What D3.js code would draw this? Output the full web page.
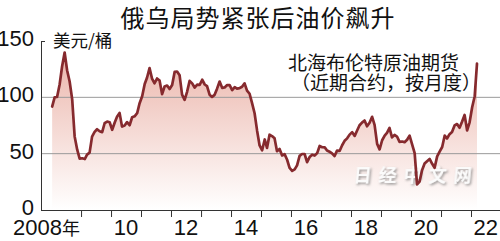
<!DOCTYPE html>
<html>
<head>
<meta charset="utf-8">
<script src="https://cdn.jsdelivr.net/npm/d3@7"></script>
<style>
  body { margin: 0; background: #fff; }
  svg { display: block; }
</style>
</head>
<body>
<div id="chart"></div>
<script>
// Brent front-month, month-end close, USD/bbl, Jan 2008 .. Mar 2022
const startMonth = "2008-01";
const brentClose = [
  // 2008
  91.8, 100.1, 100.3, 111.4, 127.4, 139.8, 124.1, 114.1, 98.2, 65.3, 53.5, 45.6,
  // 2009
  45.9, 45.2, 49.2, 50.9, 65.1, 69.3, 71.7, 69.9, 69.1, 77.0, 78.5, 77.9,
  // 2010
  71.2, 77.6, 82.7, 86.2, 74.0, 75.0, 78.0, 75.2, 82.3, 83.2, 85.9, 94.8,
  // 2011
  101.0, 111.8, 117.4, 125.9, 116.7, 112.5, 116.7, 114.9, 102.8, 109.6, 110.5, 107.4,
  // 2012
  111.0, 122.7, 122.9, 119.5, 102.4, 97.8, 104.9, 114.6, 112.4, 108.7, 111.2, 111.1,
  // 2013
  115.6, 111.4, 110.0, 102.4, 100.4, 102.2, 107.7, 114.0, 108.4, 108.8, 110.9, 110.8,
  // 2014
  106.4, 109.1, 107.8, 108.1, 109.4, 112.4, 106.0, 103.2, 94.7, 85.9, 70.2, 57.3,
  // 2015
  53.0, 62.6, 55.1, 66.8, 65.6, 63.6, 52.2, 54.2, 48.4, 49.6, 44.6, 37.3,
  // 2016
  34.7, 36.0, 39.6, 48.1, 49.7, 49.7, 42.5, 47.0, 49.1, 48.3, 50.5, 56.8,
  // 2017
  55.7, 55.6, 52.8, 51.7, 50.3, 47.9, 52.7, 52.4, 57.5, 61.4, 63.6, 66.9,
  // 2018
  69.1, 65.8, 70.3, 75.2, 77.6, 79.4, 74.3, 77.4, 82.7, 75.5, 58.7, 53.8,
  // 2019
  61.9, 66.0, 68.4, 72.8, 64.5, 66.6, 65.2, 60.4, 60.8, 60.2, 62.4, 66.0,
  // 2020
  58.2, 50.5, 22.7, 25.3, 35.3, 41.2, 43.3, 45.3, 41.0, 37.5, 47.6, 51.8,
  // 2021
  55.9, 66.1, 63.5, 67.3, 69.3, 75.1, 76.3, 73.0, 78.5, 84.4, 70.6, 77.8,
  // 2022
  91.2, 101.0, 130.0
];

const yTicks = [0, 50, 100, 150];
const gridValues = [50, 100];
const labelYears = [2008, 2010, 2012, 2014, 2016, 2018, 2020, 2022];
const labelText = ["2008", "10", "12", "14", "16", "18", "20", "22"];
const yearSuffix = "年";
const titleText = "俄乌局势紧张后油价飙升";
const unitText = "美元/桶";
const noteLines = ["北海布伦特原油期货", "（近期合约，按月度）"];
const watermarkText = "日经中文网";

const W = 500, H = 241;
const cjk = "'Noto Sans CJK SC', 'Noto Sans', sans-serif";
const narrow = "'Liberation Sans Narrow', 'Arial Narrow', 'Liberation Sans', sans-serif";

const svg = d3.select("#chart").append("svg")
  .attr("width", W)
  .attr("height", H);

const parse = d3.timeParse("%Y-%m");
const t0 = parse(startMonth);
const data = brentClose.map((v, i) => ({
  date: d3.timeDay.offset(d3.timeMonth.offset(t0, i), 14),
  value: v
}));

const x = d3.scaleTime()
  .domain([new Date(2008, 0, 1), new Date(2022, 0, 1)])
  .range([51, 471]);
const y = d3.scaleLinear()
  .domain([0, 150])
  .range([210, 41]);

// gradient for the area
const defs = svg.append("defs");
const grad = defs.append("linearGradient")
  .attr("id", "areaGrad")
  .attr("gradientUnits", "userSpaceOnUse")
  .attr("x1", 0).attr("x2", 0)
  .attr("y1", y(150)).attr("y2", y(0));
grad.append("stop").attr("offset", "0%").attr("stop-color", "#eab0a5");
grad.append("stop").attr("offset", "100%").attr("stop-color", "#ffffff");

const shadow = defs.append("filter").attr("id", "wmShadow")
  .attr("x", "-10%").attr("y", "-30%").attr("width", "130%").attr("height", "170%");
shadow.append("feDropShadow")
  .attr("dx", 1.5).attr("dy", 1.5).attr("stdDeviation", 1)
  .attr("flood-color", "#808080").attr("flood-opacity", 0.8);

// area
const area = d3.area()
  .x(d => x(d.date))
  .y0(y(0))
  .y1(d => y(d.value));
svg.append("path")
  .datum(data)
  .attr("d", area)
  .attr("fill", "url(#areaGrad)");

// grid lines
svg.append("g")
  .selectAll("line")
  .data(gridValues)
  .enter()
  .append("line")
  .attr("x1", 41)
  .attr("x2", W)
  .attr("y1", d => y(d))
  .attr("y2", d => y(d))
  .attr("stroke", "#9a9a9a")
  .attr("stroke-width", 1);

// watermark
svg.append("text")
  .attr("transform", "translate(353,182) skewX(-6)")
  .attr("font-family", cjk)
  .attr("font-size", 18)
  .attr("font-weight", 700)
  .attr("letter-spacing", 7)
  .attr("fill", "#fbfbfb")
  .attr("filter", "url(#wmShadow)")
  .text(watermarkText);

// y axis line + top tick
svg.append("line")
  .attr("x1", 41.5).attr("x2", 41.5)
  .attr("y1", y(150)).attr("y2", y(0))
  .attr("stroke", "#333");
svg.append("line")
  .attr("x1", 41).attr("x2", 45)
  .attr("y1", y(150) + 0.5).attr("y2", y(150) + 0.5)
  .attr("stroke", "#333");

// x axis
const xAxis = d3.axisBottom(x)
  .tickValues(d3.timeYear.range(new Date(2009, 0, 1), new Date(2023, 0, 1)))
  .tickSize(7)
  .tickFormat("");
const gx = svg.append("g")
  .attr("transform", `translate(0,${y(0)})`)
  .call(xAxis);
gx.select(".domain").remove();
gx.selectAll(".tick line").attr("stroke", "#333");
svg.append("line")
  .attr("x1", 41).attr("x2", W)
  .attr("y1", y(0) + 0.5).attr("y2", y(0) + 0.5)
  .attr("stroke", "#333");

// x labels
const xl = svg.append("g")
  .selectAll("text")
  .data(labelYears)
  .enter()
  .append("text")
  .attr("x", (d, i) => i === 0 ? x(new Date(2009, 0, 1)) - 1 : x(new Date(d, 6, 1)))
  .attr("y", 235)
  .attr("text-anchor", (d, i) => i === 0 ? "end" : "middle")
  .attr("font-family", narrow)
  .attr("font-size", 22)
  .attr("fill", "#111");
xl.append("tspan").text((d, i) => labelText[i]);
xl.filter((d, i) => i === 0)
  .append("tspan")
  .attr("font-family", cjk)
  .attr("font-size", 18)
  .text(yearSuffix);

// y labels
svg.append("g")
  .selectAll("text")
  .data(yTicks)
  .enter()
  .append("text")
  .attr("x", 34)
  .attr("y", d => y(d) + 5)
  .attr("text-anchor", "end")
  .attr("font-family", narrow)
  .attr("font-size", 22)
  .attr("fill", "#111")
  .text(d => d);

// line
const line = d3.line()
  .x(d => x(d.date))
  .y(d => y(d.value));
svg.append("path")
  .datum(data)
  .attr("d", line)
  .attr("fill", "none")
  .attr("stroke", "#862a2e")
  .attr("stroke-width", 2.7)
  .attr("stroke-linejoin", "round")
  .attr("stroke-linecap", "round");

// title
svg.append("text")
  .attr("x", 258)
  .attr("y", 27)
  .attr("text-anchor", "middle")
  .attr("font-family", cjk)
  .attr("font-size", 24)
  .attr("letter-spacing", 1)
  .attr("fill", "#111")
  .text(titleText);

// unit
svg.append("text")
  .attr("x", 53)
  .attr("y", 47)
  .attr("font-family", cjk)
  .attr("font-size", 17.5)
  .attr("fill", "#111")
  .text(unitText);

// series note
svg.append("g")
  .selectAll("text")
  .data(noteLines)
  .enter()
  .append("text")
  .attr("x", (d, i) => i === 0 ? 288 : 291)
  .attr("y", (d, i) => 70 + i * 20)
  .attr("font-family", cjk)
  .attr("font-size", 19)
  .attr("fill", "#111")
  .text(d => d);
</script>
</body>
</html>
